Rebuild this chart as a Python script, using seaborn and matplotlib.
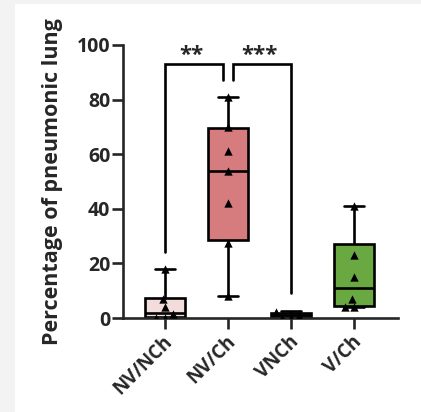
import numpy as np
import pandas as pd
import matplotlib
matplotlib.use("Agg")
import matplotlib.pyplot as plt
import matplotlib.transforms as mtransforms
import seaborn as sns
from matplotlib.patches import Rectangle

# ---- data ----
categories = ["NV/NCh", "NV/Ch", "VNCh", "V/Ch"]
box_min = [0, 8, 0, 4]
box_q1 = [0.3, 28.5, 0.3, 4.5]
box_median = [1.7, 54, 1, 11]
box_q3 = [7.2, 69.5, 2, 27]
box_max = [18, 81, 2.5, 41]

pts_nvnch = [0, 0, 1.5, 4, 7, 18]
pts_nvch = [8, 27.5, 42, 54, 61, 70, 81]
pts_vnch = [0, 0, 0.8, 2.3]
pts_vch = [4, 4, 7, 15, 23, 41]

colors = ["#f2dcdc", "#d67b7e", "#cfe3bf", "#6aa842"]
y_ticks = [0, 20, 40, 60, 80, 100]
ylabel = "Percentage of pneumonic lung"
sig_labels = ["**", "***"]

# ---- build tables ----
rows = []
for c, a, b, m, d, e in zip(categories, box_min, box_q1, box_median, box_q3, box_max):
    for v in (a, b, m, d, e):
        rows.append((c, v))
box_df = pd.DataFrame(rows, columns=["group", "value"])

pts = {categories[0]: pts_nvnch, categories[1]: pts_nvch,
       categories[2]: pts_vnch, categories[3]: pts_vch}
pt_df = pd.DataFrame([(c, v) for c in categories for v in pts[c]],
                     columns=["group", "value"])

sns.set_style("ticks")
plt.rcParams["font.family"] = ["Open Sans", "DejaVu Sans"]
plt.rcParams["font.weight"] = "bold"

fig = plt.figure(figsize=(4.21, 4.12), dpi=100)
fig.patch.set_facecolor("white")
fig.patches.append(Rectangle((0, 0), 15 / 421, 1, transform=fig.transFigure,
                             facecolor="#f3f3f3", edgecolor="none", zorder=-10))
fig.patches.append(Rectangle((0, 1 - 4 / 412), 1, 4 / 412, transform=fig.transFigure,
                             facecolor="#f3f3f3", edgecolor="none", zorder=-10))

ax = fig.add_axes([123 / 421, 1 - 318 / 412, 275 / 421, 273 / 412])
lw = 1.9
sns.boxplot(data=box_df, x="group", y="value", order=categories, hue="group",
            hue_order=categories, palette=colors, whis=(0, 100), width=0.64,
            linewidth=lw, linecolor="black", showfliers=False, legend=False,
            saturation=1, ax=ax)
sns.swarmplot(data=pt_df, x="group", y="value", order=categories, marker="^",
              color="black", size=6, ax=ax, zorder=5, linewidth=0)

ax.set_xlim(-0.667, 3.70)
ax.set_ylim(0, 100)
ax.set_yticks(y_ticks)
ax.set_xlabel("")
ax.set_ylabel(ylabel, fontsize=15.5, fontweight="bold", labelpad=10)
sns.despine(ax=ax)
for s in ("left", "bottom"):
    ax.spines[s].set_linewidth(lw)
ax.tick_params(axis="both", length=8, width=lw, labelsize=14)
ax.tick_params(axis="y", pad=1)
for lab in ax.get_yticklabels():
    lab.set_fontweight("bold")
ax.set_xticks(range(len(categories)))
ax.set_xticklabels(categories, rotation=45, ha="right", va="center",
                   rotation_mode="anchor", fontsize=13.5, fontweight="bold")
offset = mtransforms.ScaledTranslation(5 / 100, -5 / 100, fig.dpi_scale_trans)
for lab in ax.get_xticklabels():
    lab.set_transform(lab.get_transform() + offset)

# significance brackets
ax.plot([0, 0, 0.92, 0.92], [24, 93, 93, 87], color="black", lw=lw,
        clip_on=False, solid_joinstyle="miter")
ax.plot([1.08, 1.08, 2, 2], [87, 93, 93, 9], color="black", lw=lw,
        clip_on=False, solid_joinstyle="miter")
ax.text(0.42, 96, sig_labels[0], ha="center", va="center", fontsize=16,
        fontweight="bold")
ax.text(1.5, 96, sig_labels[1], ha="center", va="center", fontsize=16,
        fontweight="bold")

fig.savefig("out.png", dpi=100)
